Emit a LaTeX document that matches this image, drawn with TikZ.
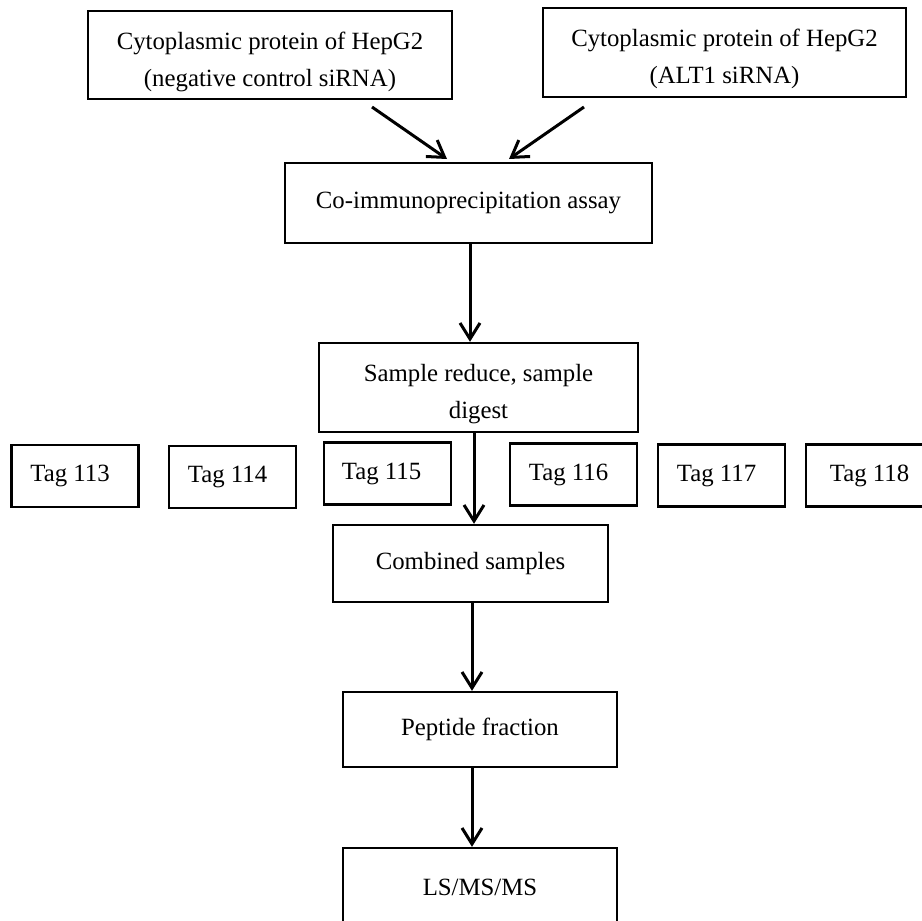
\documentclass[tikz,border=0pt]{standalone}
\usepackage{fontspec}
\setmainfont{Liberation Serif}
\usetikzlibrary{arrows.meta}

% extra room above the first line of two-line boxes
\newcommand{\toppad}{\rule{0pt}{31pt}}

\tikzset{
  procbox/.style={draw, line width=2.4pt, inner sep=0pt, align=center,
    font=\fontsize{24.8}{37}\selectfont},
  tagbox/.style={procbox, minimum width=127pt, minimum height=62pt},
  flow/.style={line width=3pt, -{Straight Barb[length=16pt,width=20pt]}}
}

\begin{document}
\begin{tikzpicture}[x=1pt,y=-1pt]
  \useasboundingbox (0,0) rectangle (922,921);

  % lysates
  \node[procbox, minimum width=364pt, minimum height=88pt] (neg) at (270,55)
    {\toppad Cytoplasmic protein of HepG2\\(negative control siRNA)};
  \node[procbox, minimum width=363pt, minimum height=89pt] (alt) at (724.5,52.5)
    {\toppad Cytoplasmic protein of HepG2\\(ALT1 siRNA)};

  % co-IP
  \node[procbox, minimum width=367pt, minimum height=80pt] (coip) at (468.5,203)
    {Co-immunoprecipitation assay};

  % reduce / digest
  \node[procbox, minimum width=319pt, minimum height=89pt] (digest) at (478.5,387.5)
    {\toppad Sample reduce, sample\\digest};

  % tags
  \foreach \x/\y/\t/\o in {75/476/113/10, 232.5/477/114/10, 387.5/473.5/115/12,
                           573.5/474.5/116/10, 721.5/475.5/117/10, 869.5/475.5/118/0}
    \node[tagbox] (tag\t) at (\x,\y) {Tag \t\hspace*{\o pt}};

  % combined, fraction, MS
  \node[procbox, minimum width=275pt, minimum height=77pt] (comb) at (470.5,563.5)
    {Combined samples};
  \node[procbox, minimum width=274pt, minimum height=75pt] (pep) at (480,729.5)
    {Peptide fraction};
  \node[procbox, minimum width=274pt, minimum height=78pt] (lsms) at (480,887)
    {LS/MS/MS};

  % arrows
  \coordinate (negtail) at (372,107);
  \coordinate (alttail) at (584,107);
  \coordinate (negtip) at (447,159);
  \coordinate (alttip) at (509,159);
  \draw[flow] (negtail) -- (negtip);
  \draw[flow] (alttail) -- (alttip);
  \draw[flow] (coip.south -| 470,0) -- (digest.north -| 470,0);
  \draw[flow] (digest.south -| 474,0) -- (comb.north -| 474,0);
  \draw[flow] (comb.south -| 472,0) -- (pep.north -| 472,0);
  \draw[flow] (pep.south -| 472,0) -- (lsms.north -| 472,0);
\end{tikzpicture}
\end{document}
